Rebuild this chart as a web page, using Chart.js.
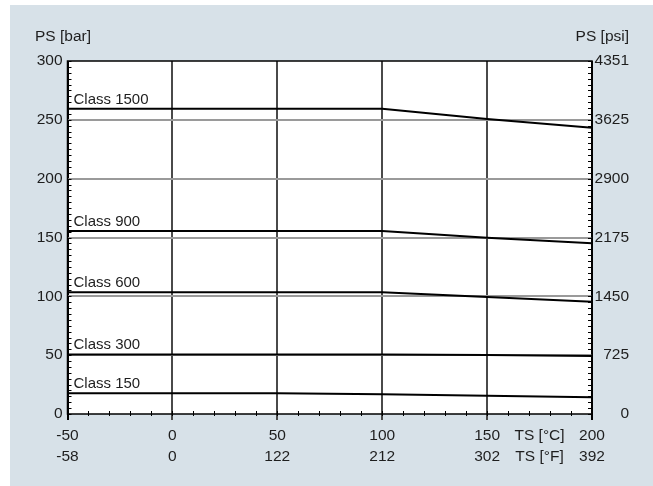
<!DOCTYPE html>
<html>
<head>
<meta charset="UTF-8">
<title>PS / TS</title>
<script src="https://cdn.jsdelivr.net/npm/chart.js@4"></script>
<style>
html, body { margin: 0; padding: 0; background: #fff; }
</style>
</head>
<body>
<canvas id="chart" width="653" height="486"></canvas>
<script>
// Temperatura TS [°C] (eje x)
const temps = [-50, 0, 50, 100, 150, 200];
// Presión PS [bar] por clase
const class150 = [17.6, 17.6, 17.6, 16.7, 15.5, 14.2];
const class300 = [50.6, 50.6, 50.6, 50.6, 50.1, 49.3];
const class600 = [103.4, 103.4, 103.4, 103.4, 99.4, 95.4];
const class900 = [155.5, 155.5, 155.5, 155.5, 149.8, 145.1];
const class1500 = [259.5, 259.5, 259.5, 259.5, 250.7, 243.3];
const classNames = ['Class 150', 'Class 300', 'Class 600', 'Class 900', 'Class 1500'];

// Etiquetas de los ejes
const celsiusTicks = [-50, 0, 50, 100, 150, 200];
const fahrenheitLabels = ['-58', '0', '122', '212', '302', '392'];
const barTicks = [0, 50, 100, 150, 200, 250, 300];
const psiLabels = ['0', '725', '1450', '2175', '2900', '3625', '4351'];
const unitTickPos = 175; // donde va "TS [°C]" / "TS [°F]"

const FAMILY = '"Liberation Sans", Arial, sans-serif';
const FONT = { family: FAMILY, size: 15.5 };
const TEXT = '#1e1e1e';

const series = [class150, class300, class600, class900, class1500];
const datasets = series.map((vals, i) => ({
    label: classNames[i],
    data: temps.map((t, j) => ({ x: t, y: vals[j] })),
    borderColor: '#000',
    borderWidth: 2,
    pointRadius: 0,
    tension: 0,
    fill: false
}));

// Fondo, borde, marcas menores y textos extra
const decor = {
    id: 'decor',
    beforeDraw(chart) {
        const c = chart.ctx, a = chart.chartArea;
        c.save();
        c.fillStyle = '#fff';
        c.fillRect(0, 0, chart.width, chart.height);
        c.fillStyle = '#d7e1e8';
        c.fillRect(10, 5, chart.width - 10, chart.height - 5);
        c.fillStyle = '#fff';
        c.fillRect(a.left, a.top, a.right - a.left, a.bottom - a.top);
        c.restore();
    },
    afterDatasetsDraw(chart) {
        const c = chart.ctx, a = chart.chartArea;
        const x = chart.scales.x, y = chart.scales.y;
        c.save();
        // marcas menores
        c.strokeStyle = '#000';
        c.lineWidth = 1;
        c.beginPath();
        for (let v = 0; v <= 300; v += 5) {
            const py = Math.round(y.getPixelForValue(v)) + 0.5;
            c.moveTo(a.left, py); c.lineTo(a.left + 4, py);
            c.moveTo(a.right - 4, py); c.lineTo(a.right, py);
        }
        for (let v = -50; v <= 200; v += 10) {
            const px = Math.round(x.getPixelForValue(v)) + 0.5;
            c.moveTo(px, a.bottom - 3); c.lineTo(px, a.bottom + 2);
        }
        c.stroke();
        // borde del área
        c.lineWidth = 1.5;
        c.strokeRect(a.left, a.top, a.right - a.left, a.bottom - a.top);
        // nombres de clase
        c.fillStyle = TEXT;
        c.font = '15px ' + FAMILY;
        c.textAlign = 'left';
        c.textBaseline = 'alphabetic';
        series.forEach((vals, i) => {
            c.fillText(classNames[i], x.getPixelForValue(temps[0]) + 6, y.getPixelForValue(vals[0]) - 5);
        });
        // títulos de ejes
        c.font = FONT.size + 'px ' + FAMILY;
        c.textBaseline = 'middle';
        c.fillText('PS [bar]', 35, 37);
        c.textAlign = 'right';
        c.fillText('PS [psi]', 629, 37);
        c.restore();
    }
};

new Chart(document.getElementById('chart'), {
    type: 'line',
    data: { datasets },
    options: {
        responsive: false,
        animation: false,
        layout: { padding: { top: 61, left: 0, right: 24, bottom: 20 } },
        plugins: { legend: { display: false }, tooltip: { enabled: false } },
        scales: {
            x: {
                type: 'linear', position: 'bottom', min: -50, max: 200, weight: 0,
                afterBuildTicks: s => { s.ticks = celsiusTicks.concat([unitTickPos]).map(v => ({ value: v })); },
                afterFit: s => { s.height = 30; },
                ticks: {
                    maxRotation: 0, autoSkip: false, padding: 6, color: TEXT, font: FONT,
                    callback: v => v === unitTickPos ? 'TS [°C]' : String(v)
                },
                grid: {
                    drawTicks: true, tickLength: 6, lineWidth: 2,
                    color: ctx => {
                        const v = ctx.tick ? ctx.tick.value : null;
                        if (v === unitTickPos) return 'rgba(0,0,0,0)';
                        if (v === -50 || v === 200) return '#000';
                        return '#4a4a4a';
                    }
                },
                border: { display: false }
            },
            x2: {
                type: 'linear', position: 'bottom', min: -50, max: 200, weight: 1,
                afterBuildTicks: s => { s.ticks = celsiusTicks.concat([unitTickPos]).map(v => ({ value: v })); },
                afterFit: s => { s.height = 22; },
                ticks: {
                    maxRotation: 0, autoSkip: false, padding: 3, color: TEXT, font: FONT,
                    callback: v => v === unitTickPos ? 'TS [°F]' : fahrenheitLabels[celsiusTicks.indexOf(v)]
                },
                grid: { display: false, drawTicks: false },
                border: { display: false }
            },
            y: {
                type: 'linear', position: 'left', min: 0, max: 300,
                afterBuildTicks: s => { s.ticks = barTicks.map(v => ({ value: v })); },
                afterFit: s => { s.width = 67.5; },
                ticks: { padding: 5, color: TEXT, font: FONT },
                grid: {
                    drawTicks: false, lineWidth: 2,
                    color: ctx => (ctx.tick && (ctx.tick.value === 0 || ctx.tick.value === 300)) ? 'rgba(0,0,0,0)' : '#9a9a9a'
                },
                border: { display: false }
            },
            y2: {
                type: 'linear', position: 'right', min: 0, max: 300,
                afterBuildTicks: s => { s.ticks = barTicks.map(v => ({ value: v })); },
                afterFit: s => { s.width = 37; },
                ticks: {
                    padding: 2, crossAlign: 'far', color: TEXT, font: FONT,
                    callback: v => psiLabels[barTicks.indexOf(v)]
                },
                grid: { display: false, drawTicks: false },
                border: { display: false }
            }
        }
    },
    plugins: [decor]
});
</script>
</body>
</html>
